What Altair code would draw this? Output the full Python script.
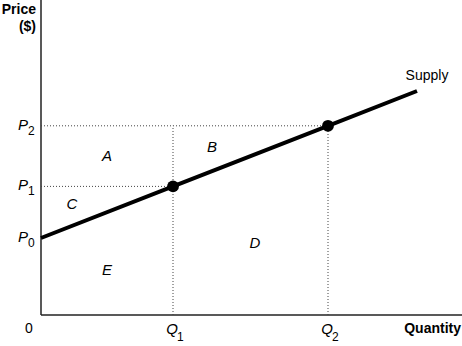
import altair as alt
import pandas as pd

# ---- data (plot units: x = quantity, y = price) ----
supply_q = [0, 132, 287, 376]
supply_p = [77, 128.6, 189.2, 224]
eq_q = [132, 287]
eq_p = [128.6, 189.2]
price_levels = [77, 128.6, 189.2]
price_subs = ["0", "1", "2"]
qty_subs = ["1", "2"]
area_labels = ["A", "B", "C", "D", "E"]
area_q = [66, 171, 31, 214, 66]
area_p = [159, 168, 111, 72, 45]

X_MAX = 421
Y_MAX = 315
FONT = "Liberation Sans"

xs = alt.Scale(domain=[0, X_MAX], nice=False, zero=False)
ys = alt.Scale(domain=[0, Y_MAX], nice=False, zero=False)


def X(f="x"):
    return alt.X(f"{f}:Q", scale=xs, axis=None)


def Y(f="y"):
    return alt.Y(f"{f}:Q", scale=ys, axis=None)


# axes lines
axes_df = pd.DataFrame({"x": [0, 0], "x2": [0, X_MAX], "y": [0, 0], "y2": [Y_MAX, 0]})
axes = alt.Chart(axes_df).mark_rule(color="#222222", strokeWidth=1.5).encode(
    x=X(), x2="x2:Q", y=Y(), y2="y2:Q"
)

# dotted guide lines
h_df = pd.DataFrame({"x": [0] * len(eq_q), "x2": eq_q, "y": eq_p, "y2": eq_p})
v_df = pd.DataFrame({"x": eq_q, "x2": eq_q, "y": [0] * len(eq_q), "y2": [eq_p[-1]] * len(eq_q)})
guides_df = pd.concat([h_df, v_df], ignore_index=True)
guides = alt.Chart(guides_df).mark_rule(
    color="#444444", strokeWidth=1, strokeDash=[1, 2]
).encode(x=X(), x2="x2:Q", y=Y(), y2="y2:Q")

# supply line
sup_df = pd.DataFrame({"x": supply_q, "y": supply_p})
supply = alt.Chart(sup_df).mark_line(color="black", strokeWidth=4).encode(x=X(), y=Y())

# equilibrium points
pts_df = pd.DataFrame({"x": eq_q, "y": eq_p})
pts = alt.Chart(pts_df).mark_point(
    filled=True, color="black", size=140, opacity=1
).encode(x=X(), y=Y())

# price labels P with subscripts
p_df = pd.DataFrame({"x": [0] * 3, "y": price_levels, "sub": price_subs, "t": ["P"] * 3})
p_main = alt.Chart(p_df).mark_text(
    font=FONT, fontSize=15, fontStyle="italic", align="right", baseline="alphabetic",
    dx=-13, dy=4, color="black"
).encode(x=X(), y=Y(), text="t:N")
p_sub = alt.Chart(p_df).mark_text(
    font=FONT, fontSize=12, align="left", baseline="alphabetic",
    dx=-13, dy=9, color="black"
).encode(x=X(), y=Y(), text="sub:N")

# quantity labels Q with subscripts
q_df = pd.DataFrame({"x": eq_q, "y": [0] * 2, "sub": qty_subs, "t": ["Q"] * 2})
q_main = alt.Chart(q_df).mark_text(
    font=FONT, fontSize=15, fontStyle="italic", align="right", baseline="alphabetic",
    dx=5, dy=19, color="black"
).encode(x=X(), y=Y(), text="t:N")
q_sub = alt.Chart(q_df).mark_text(
    font=FONT, fontSize=12, align="left", baseline="alphabetic",
    dx=4, dy=26, color="black"
).encode(x=X(), y=Y(), text="sub:N")

# area letters
a_df = pd.DataFrame({"x": area_q, "y": area_p, "t": area_labels})
areas = alt.Chart(a_df).mark_text(
    font=FONT, fontSize=15, fontStyle="italic", align="center", baseline="middle", color="black"
).encode(x=X(), y=Y(), text="t:N")

# other text
sup_lbl = alt.Chart(pd.DataFrame({"x": [supply_q[-1]], "y": [supply_p[-1]], "t": ["Supply"]})).mark_text(
    font=FONT, fontSize=14, align="center", baseline="middle", dx=10, dy=-15, color="black"
).encode(x=X(), y=Y(), text="t:N")

zero_lbl = alt.Chart(pd.DataFrame({"x": [0], "y": [0], "t": ["0"]})).mark_text(
    font=FONT, fontSize=14, align="center", baseline="alphabetic", dx=-12, dy=18, color="black"
).encode(x=X(), y=Y(), text="t:N")

qty_lbl = alt.Chart(pd.DataFrame({"x": [X_MAX], "y": [0], "t": ["Quantity"]})).mark_text(
    font=FONT, fontSize=14, fontWeight="bold", align="right", baseline="alphabetic",
    dx=-1, dy=18, color="black"
).encode(x=X(), y=Y(), text="t:N")

price_df = pd.DataFrame({"x": [0], "y": [Y_MAX], "t": ["Price"]})
dollar_df = pd.DataFrame({"x": [0], "y": [Y_MAX], "t": ["($)"]})
price_lbl = alt.Chart(price_df).mark_text(
    font=FONT, fontSize=14, fontWeight="bold", align="right", baseline="alphabetic",
    dx=-5, dy=14, color="black"
).encode(x=X(), y=Y(), text="t:N")
dollar_lbl = alt.Chart(dollar_df).mark_text(
    font=FONT, fontSize=14, fontWeight="bold", align="right", baseline="alphabetic",
    dx=-5, dy=31, color="black"
).encode(x=X(), y=Y(), text="t:N")

chart = alt.layer(
    axes, guides, supply, pts, p_main, p_sub, q_main, q_sub, areas,
    sup_lbl, zero_lbl, qty_lbl, price_lbl, dollar_lbl
).properties(
    width=X_MAX, height=Y_MAX,
    autosize=alt.AutoSizeParams(type="none"),
    padding={"left": 41, "top": 0, "right": 0, "bottom": 31},
    background="white",
).configure_view(stroke=None)

chart.save("out.html", embed_options={"renderer": "svg", "actions": False})
